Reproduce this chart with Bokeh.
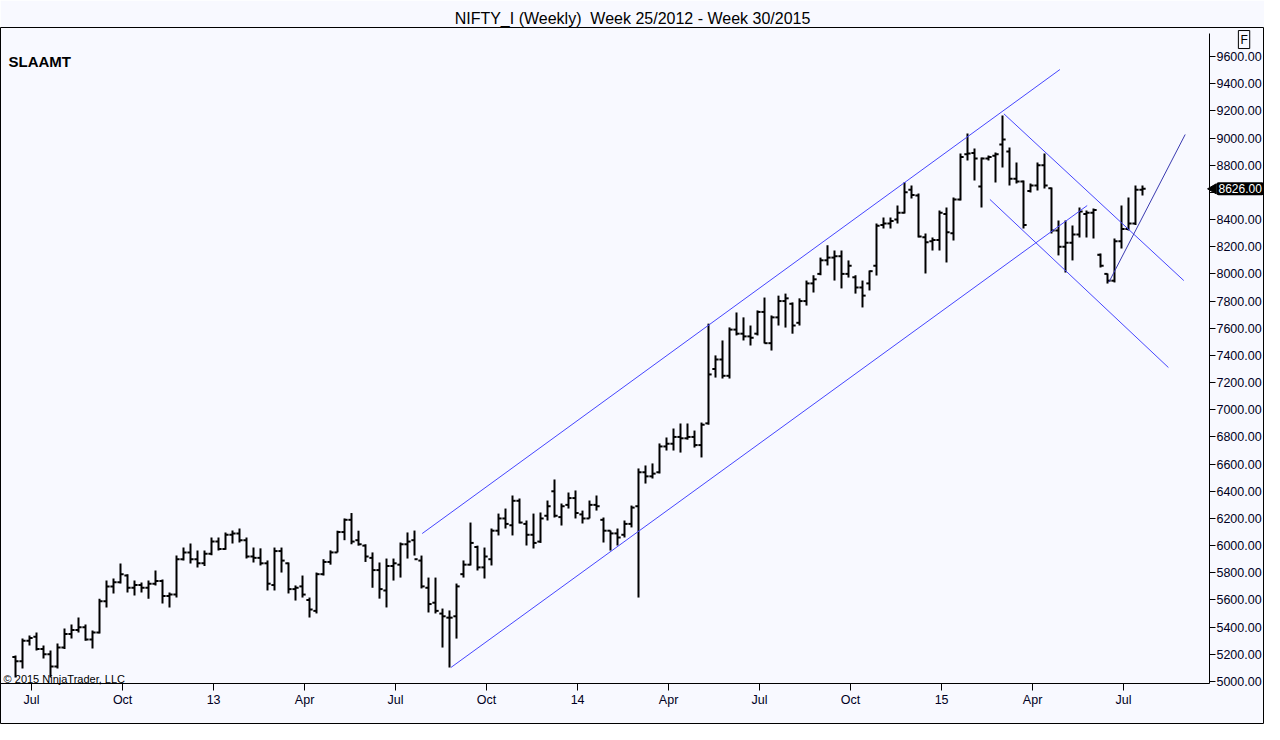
from bokeh.plotting import figure
from bokeh.models import ColumnDataSource, Range1d, FixedTicker, NumeralTickFormatter, Label
from bokeh.embed import file_html
from bokeh.resources import INLINE
import math

title_text = "NIFTY_I (Weekly)\u00a0 Week 25/2012 - Week 30/2015"
study_text = "SLAAMT"
copyright_text = "\u00a9 2015 NinjaTrader, LLC"

# x-axis: week index of first week of each labelled month
tick_weeks = [2, 15, 28, 41, 54, 67, 80, 93, 106, 119, 132, 145, 158]
tick_labels = ["Jul", "Oct", "13", "Apr", "Jul", "Oct", "14", "Apr", "Jul", "Oct", "15", "Apr", "Jul"]
price_ticks = list(range(5000, 9601, 200))

opens = [
5180,5150,5300,5330,5240,5200,5110,5250,5350,5380,
5400,5310,5360,5590,5700,5730,5780,5690,5710,5690,
5720,5740,5630,5640,5900,5950,5900,5870,5940,6030,
5975,6080,6090,6040,5920,5910,5870,5710,5960,5870,
5680,5700,5600,5520,5790,5880,5950,6100,6190,6040,
6000,5910,5820,5670,5850,5860,6010,6040,5890,5690,
5580,5500,5470,5480,5790,5860,5990,5840,5900,6110,
6200,6150,6330,6160,6080,6030,6220,6400,6210,6300,
6350,6230,6200,6300,6190,6110,6090,6080,6160,6290,
6540,6510,6540,6730,6750,6800,6790,6800,6740,6900,
7300,7370,7250,7590,7560,7540,7560,7720,7490,7680,
7800,7780,7640,7800,7930,8000,8100,8120,8130,8000,
7975,7900,7930,8060,8360,8370,8400,8450,8620,8577,
8270,8240,8250,8440,8300,8548,8880,8890,8643,8850,
8870,8952,8900,8700,8680,8610,8650,8800,8630,8320,
8200,8230,8290,8440,8450,8140,8000,7950,8240,8330,
8370,8620]

highs = [
5191,5316,5338,5360,5265,5228,5280,5390,5420,5471,
5420,5375,5610,5743,5758,5868,5790,5743,5728,5743,
5817,5750,5655,5927,5986,6016,5964,5964,6060,6060,
6097,6111,6126,6060,5986,5980,5891,5986,5986,5876,
5707,5780,5618,5802,5900,5965,6110,6200,6240,6110,
6010,5950,5876,5905,5905,6023,6097,6111,5927,5765,
5765,5537,5523,5721,5891,6170,6000,5986,6126,6236,
6273,6369,6347,6185,6236,6244,6332,6487,6310,6391,
6406,6258,6332,6369,6207,6111,6126,6185,6295,6568,
6590,6605,6752,6796,6862,6899,6899,6847,6906,7634,
7400,7510,7606,7716,7680,7620,7731,7826,7694,7840,
7855,7790,7820,7951,7990,8120,8210,8172,8172,8099,
7990,7951,8025,8371,8415,8415,8503,8675,8650,8592,
8297,8268,8467,8489,8562,8886,9033,8923,8857,8871,
8893,9166,8930,8820,8687,8665,8820,8886,8636,8393,
8393,8356,8489,8467,8481,8150,8003,8260,8503,8562,
8650,8650]

lows = [
5030,5096,5265,5228,5170,5030,5096,5240,5316,5360,
5300,5243,5353,5545,5648,5721,5655,5633,5655,5610,
5706,5575,5545,5618,5890,5868,5840,5850,5930,5964,
5970,6016,6023,5905,5876,5854,5670,5670,5802,5648,
5596,5618,5471,5501,5780,5860,5950,6040,6010,6000,
5880,5690,5610,5545,5743,5765,5905,5927,5685,5508,
5501,5250,5103,5316,5765,5854,5817,5758,5854,6075,
6126,6075,6163,6001,5979,6020,6185,6207,6148,6273,
6200,6163,6200,6258,6023,5964,6001,6060,6134,5618,
6457,6494,6531,6700,6700,6685,6780,6722,6649,6890,
7237,7230,7230,7547,7510,7473,7547,7488,7436,7620,
7605,7560,7620,7767,7863,7990,8062,7951,7893,7973,
7855,7753,7878,7988,8334,8334,8371,8445,8555,8268,
8003,8172,8172,8084,8246,8540,8834,8687,8489,8834,
8673,8783,8650,8665,8334,8599,8614,8629,8297,8136,
8010,8099,8268,8268,8260,8047,7929,7937,8187,8319,
8360,8577]

closes = [
5150,5300,5320,5240,5200,5110,5250,5350,5380,5400,
5310,5360,5590,5700,5730,5790,5690,5710,5690,5720,
5740,5630,5640,5900,5950,5900,5870,5940,6030,5975,
6080,6090,6040,5920,5910,5870,5720,5960,5890,5680,
5690,5640,5530,5790,5880,5950,6100,6190,6030,6010,
5920,5820,5680,5850,5870,6010,6030,5900,5700,5570,
5520,5480,5470,5700,5860,6020,5840,5920,6110,6200,
6160,6330,6170,6080,6020,6200,6290,6220,6290,6350,
6240,6200,6300,6290,6110,6090,6060,6160,6280,6540,
6510,6530,6730,6750,6800,6790,6800,6740,6890,7260,
7370,7250,7590,7560,7540,7530,7720,7490,7680,7800,
7820,7620,7800,7930,7960,8100,8120,8130,8000,8060,
7900,7840,8020,8355,8370,8390,8450,8600,8580,8275,
8233,8250,8450,8307,8548,8860,8886,8850,8850,8860,
8880,8989,8700,8680,8360,8650,8800,8650,8320,8200,
8230,8290,8460,8450,8470,8060,7950,8240,8330,8370,
8620,8626]

# drawn trend lines (week index, price)
trend_x0 = [58.1, 62.2, 141.2, 139.2, 156.2]
trend_y0 = [6089, 5103, 9178, 8548, 7939]
trend_x1 = [149.2, 153.1, 166.9, 164.7, 167.1]
trend_y1 = [9504, 8503, 7951, 7311, 9026]
trend_colors = ["#4646ff", "#4646ff", "#4646ff", "#4646ff", "#3a3ab0"]

# layout constants (data units of the chart panel)
X_START, X_END = -2.143, 178.43      # visible week span incl. price-scale area
Y_START, Y_END = 4683.6, 9813.4      # visible price span incl. time-axis area
PRICE_AXIS_AT = 170.57               # week position of the price scale line
TIME_AXIS_AT = 4985                  # price position of the time axis line
AXIS_TOP = 9770

N = len(closes)
idx = list(range(N))
src = ColumnDataSource(dict(
    x=idx, xl=[i - 0.45 for i in idx], xr=[i + 0.45 for i in idx],
    o=opens, h=highs, l=lows, c=closes))

BG = "#F8F9FF"
p = figure(width=1264, height=724, output_backend="svg", toolbar_location=None,
           x_range=Range1d(X_START, X_END), y_range=Range1d(Y_START, Y_END),
           y_axis_location="right", x_axis_location="below",
           min_border_left=0, min_border_right=0, min_border_top=27, min_border_bottom=0,
           background_fill_color=BG, border_fill_color=BG,
           outline_line_color="black", outline_line_width=1)

p.title.text = title_text
p.title.align = "center"
p.title.vertical_align = "middle"
p.title.standoff = 0
p.title.text_font = "Liberation Sans"
p.title.text_font_size = "16px"
p.title.text_font_style = "normal"
p.title.text_color = "black"

p.grid.visible = False

# OHLC bars
p.segment(x0="x", y0="l", x1="x", y1="h", source=src, line_color="black", line_width=2)
p.segment(x0="xl", y0="o", x1="x", y1="o", source=src, line_color="black", line_width=2)
p.segment(x0="x", y0="c", x1="xr", y1="c", source=src, line_color="black", line_width=2)

# trend lines
p.segment(x0=trend_x0, y0=trend_y0, x1=trend_x1, y1=trend_y1, line_color=trend_colors, line_width=1)

# axes (drawn at fixed positions inside the panel)
tick_pos = [w + 0.3 for w in tick_weeks]
xa = p.xaxis[0]
ya = p.yaxis[0]
xa.fixed_location = TIME_AXIS_AT
xa.bounds = (X_START, PRICE_AXIS_AT)
xa.ticker = FixedTicker(ticks=tick_pos)
xa.major_label_overrides = {t: lab for t, lab in zip(tick_pos, tick_labels)}
ya.fixed_location = PRICE_AXIS_AT
ya.bounds = (TIME_AXIS_AT, AXIS_TOP)
ya.ticker = FixedTicker(ticks=price_ticks)
ya.formatter = NumeralTickFormatter(format="0.00")
ya.major_label_overrides = {8600: ""}
for ax in (xa, ya):
    ax.axis_line_color = "black"
    ax.major_tick_line_color = "black"
    ax.minor_tick_line_color = None
    ax.major_tick_in = 0
    ax.major_label_text_font = "Liberation Sans"
    ax.major_label_text_font_size = "12.5px"
    ax.major_label_text_color = "#000022"
xa.major_tick_out = 7
xa.major_label_standoff = 2
ya.major_tick_out = 6
ya.major_label_standoff = 1

# texts
p.add_layout(Label(x=-1, y=9563, text=study_text, text_baseline="middle",
                   text_font="Liberation Sans", text_font_size="15px", text_font_style="bold",
                   text_color="black"))
p.add_layout(Label(x=-1.7, y=5022, text=copyright_text, text_baseline="middle",
                   text_font="Liberation Sans", text_font_size="11px", text_color="black"))
p.add_layout(Label(x=174.7, y=9791, text="F",
                   text_align="left", text_baseline="top", text_font="Liberation Sans",
                   text_font_size="12px", text_color="black", border_line_color="black",
                   background_fill_color=BG, padding=2))

# last-price marker
last = closes[-1]
p.scatter(x=[PRICE_AXIS_AT + 0.55], y=[last], marker="triangle", angle=math.pi / 2,
          size=10, fill_color="black", line_color="black")
p.add_layout(Label(x=PRICE_AXIS_AT + 1.0, y=last, text=f"{last:.2f}", text_baseline="middle",
                   text_font="Liberation Sans", text_font_size="12px", text_color="white",
                   background_fill_color="black", border_radius=2, padding=2))

open("out.html", "w").write(file_html(p, INLINE))
